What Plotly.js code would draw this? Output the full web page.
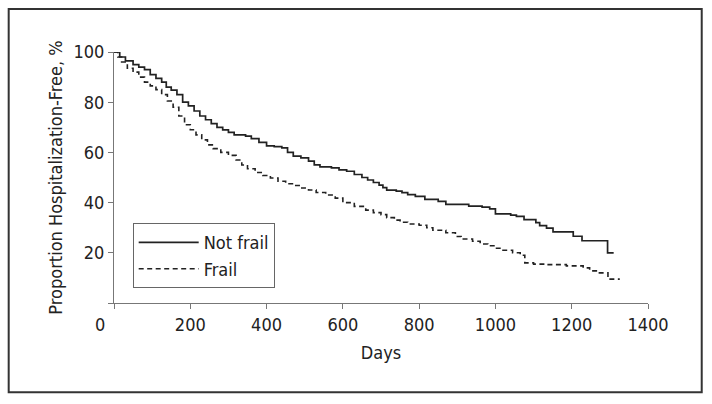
<!DOCTYPE html>
<html>
<head>
<meta charset="utf-8">
<script src="https://cdn.plot.ly/plotly-3.0.1.min.js"></script>
<style>
html,body{margin:0;padding:0;background:#fff;}
#chart{width:712px;height:404px;}
</style>
</head>
<body>
<div id="chart"></div>
<script>
// Kaplan-Meier estimates (days, % hospitalization-free)
var notFrailDays = [0,15,30,50,65,80,95,110,125,137,150,165,180,195,210,225,240,255,270,285,300,315,345,360,380,400,420,440,455,470,490,510,525,540,570,590,610,630,650,665,680,695,705,715,740,755,770,790,815,850,870,930,965,985,1000,1040,1055,1075,1106,1116,1134,1151,1204,1227,1294,1310];
var notFrailPct  = [100,98,96.5,95,94,93,91,89.5,88,86,84.8,83,80,78.5,76.5,74.5,73,71.5,70,69,68,67,66.5,65.5,64,62.6,62.3,61.8,60,58.5,57.8,56.5,55,54.2,53.8,53,52.5,51.2,50,49,48,47,46,45,44.6,44,43.2,42.5,41.3,40.5,39.3,38.6,38.2,37.5,35.5,35,34.5,33.2,32,30.8,29.8,28.3,26.6,24.8,20,20];

var frailDays = [0,10,20,35,50,65,80,95,110,125,140,155,170,185,200,215,230,245,260,280,300,320,335,350,370,390,410,430,450,470,490,510,530,555,580,600,630,660,680,700,715,735,750,770,800,820,836,870,895,910,940,960,980,1000,1015,1045,1065,1077,1100,1130,1186,1230,1247,1270,1295,1326];
var frailPct  = [100,98,96,93.5,92,90,88,86.5,85,83,80.5,78,74.5,71,69,67,65,63,61.5,60,58.8,57,55,53.5,52,50.8,49.8,48.5,47.5,46.8,45.8,45,44,43,41.8,40,38.5,37,36,35.2,34,33,32.2,31.5,31,30,29,28,26.5,25.5,24.6,23.5,22.8,21.8,21,20,19,16,15.5,15.3,14.8,14,12.8,12,9.5,9.5];

var seriesNames = ['Not frail', 'Frail'];
var xTickVals = [0,200,400,600,800,1000,1200,1400];
var xTickText = ['','200','400','600','800','1000','1200','1400'];
var yTickVals = [0,20,40,60,80,100];
var yTickText = ['','20','40','60','80','100'];
var xTitle = 'Days';
var yTitle = 'Proportion Hospitalization-Free, %';

function hasFont(name) {
  var ctx = document.createElement('canvas').getContext('2d');
  var s = 'Proportion Hospitalization-Free 0123456789';
  var bases = ['monospace', 'serif'];
  for (var i = 0; i < bases.length; i++) {
    ctx.font = '40px ' + bases[i];
    var w0 = ctx.measureText(s).width;
    ctx.font = '40px "' + name + '", ' + bases[i];
    if (ctx.measureText(s).width !== w0) return true;
  }
  return false;
}

var narrow = hasFont('Liberation Sans Narrow');
var FONT, S;
if (narrow) {
  FONT = '"Liberation Sans Narrow", sans-serif';
  S = {tick: 19, legend: 20, xt: 20, yt: 21, ystand: 8, xstand: 10};
} else {
  FONT = '"DejaVu Sans Condensed", "Liberation Sans", sans-serif';
  S = {tick: 18, legend: 18, xt: 18, yt: 18, ystand: 6, xstand: 12};
}
var INK = '#222';
var AXIS = '#777';

var traces = [
  {x: notFrailDays, y: notFrailPct, name: seriesNames[0], type: 'scatter', mode: 'lines',
   line: {shape: 'hv', color: INK, width: 1.7}, cliponaxis: false},
  {x: frailDays, y: frailPct, name: seriesNames[1], type: 'scatter', mode: 'lines',
   line: {shape: 'hv', color: INK, width: 1.6, dash: '5px,3.5px'}, cliponaxis: false}
];

var layout = {
  width: 712, height: 404,
  margin: {l: 114.3, r: 63.7, t: 52, b: 100.5, pad: 0},
  paper_bgcolor: '#fff', plot_bgcolor: '#fff',
  font: {family: FONT, size: S.tick, color: INK},
  showlegend: true,
  legend: {x: 0.035, y: 0.318, xanchor: 'left', yanchor: 'top',
           bordercolor: '#666', borderwidth: 1, bgcolor: '#fff', itemwidth: 60,
           font: {family: FONT, size: S.legend, color: INK}, tracegroupgap: 0},
  xaxis: {range: [0, 1400], tickvals: xTickVals, ticktext: xTickText,
          showgrid: false, zeroline: false, showline: true, linecolor: AXIS, linewidth: 1,
          ticks: 'outside', ticklen: 5, tickcolor: AXIS, tickwidth: 1,
          tickfont: {family: FONT, size: S.tick, color: INK},
          title: {text: xTitle, font: {family: FONT, size: S.xt, color: INK}, standoff: S.xstand}},
  yaxis: {range: [0, 100], tickvals: yTickVals, ticktext: yTickText,
          showgrid: false, zeroline: false, showline: true, linecolor: AXIS, linewidth: 1,
          ticks: 'outside', ticklen: 5, tickcolor: AXIS, tickwidth: 1,
          tickfont: {family: FONT, size: S.tick, color: INK},
          title: {text: yTitle, font: {family: FONT, size: S.yt, color: INK}, standoff: S.ystand}},
  annotations: [
    {text: '0', xref: 'x', yref: 'y', x: 0, y: 0, xanchor: 'center', yanchor: 'top',
     xshift: -14, yshift: -9, showarrow: false, font: {family: FONT, size: S.tick, color: INK}}
  ],
  shapes: [
    {type: 'rect', xref: 'paper', yref: 'paper',
     x0: -0.1972, x1: 1.1006, y0: -0.3559, y1: 1.171,
     line: {color: '#333', width: 2}, fillcolor: 'rgba(0,0,0,0)', layer: 'below'}
  ]
};

Plotly.newPlot('chart', traces, layout, {displayModeBar: false, staticPlot: true});
</script>
</body>
</html>
